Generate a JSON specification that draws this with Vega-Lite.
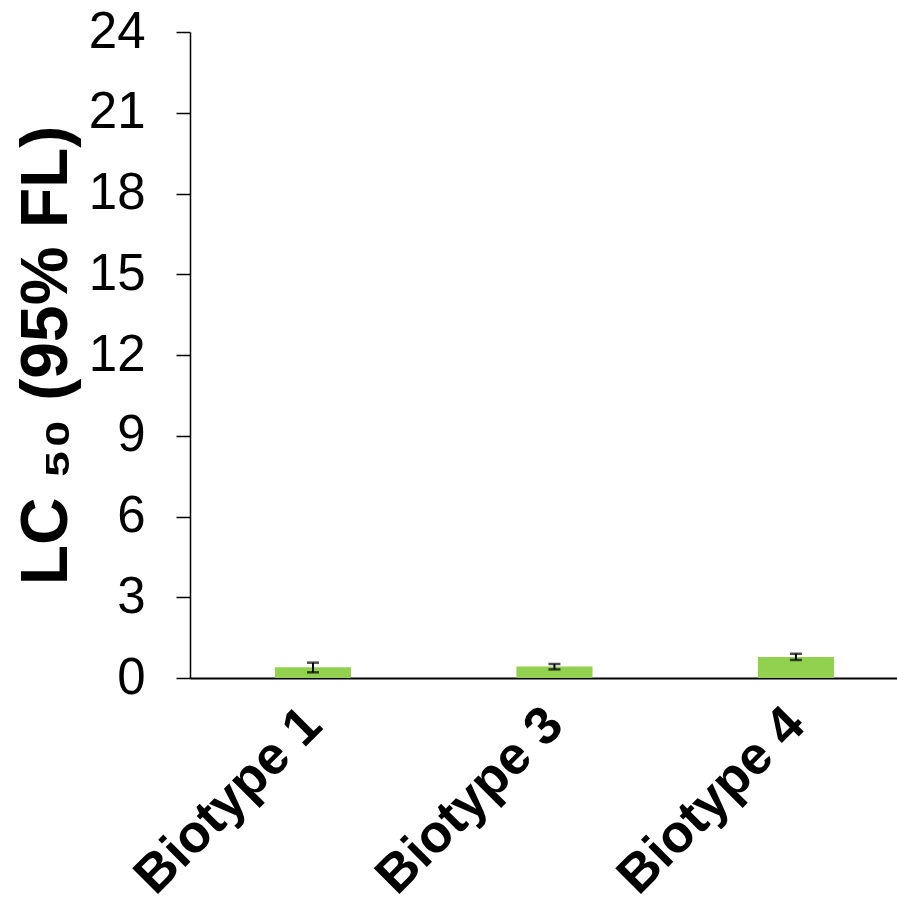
{
  "$schema": "https://vega.github.io/schema/vega-lite/v6.json",
  "width": 707,
  "height": 646,
  "autosize": {"type": "none"},
  "padding": {"left": 190, "top": 32, "right": 0, "bottom": 234},
  "background": "white",
  "config": {
    "view": {"stroke": null},
    "font": "Liberation Sans"
  },
  "data": {
    "values": [
      {"biotype": "Biotype 1", "lc50": 0.40, "lo": 0.21, "hi": 0.57},
      {"biotype": "Biotype 3", "lc50": 0.43, "lo": 0.32, "hi": 0.52},
      {"biotype": "Biotype 4", "lc50": 0.78, "lo": 0.67, "hi": 0.90}
    ]
  },
  "encoding": {
    "x": {
      "field": "biotype",
      "type": "nominal",
      "sort": null,
      "scale": {"paddingInner": 0.685, "paddingOuter": 0.3064, "align": 0.574},
      "axis": {
        "title": null,
        "domainColor": "black",
        "domainWidth": 2,
        "ticks": false,
        "labelAngle": -45,
        "labelAlign": "right",
        "labelBaseline": "middle",
        "labelFont": "Liberation Sans",
        "labelFontWeight": "bold",
        "labelFontSize": 53,
        "labelColor": "black",
        "labelPadding": 38,
        "labelLimit": 0
      }
    }
  },
  "layer": [
    {
      "mark": {"type": "bar", "color": "#92D050"},
      "encoding": {
        "y": {
          "field": "lc50",
          "type": "quantitative",
          "scale": {"domain": [0, 24], "nice": false},
          "axis": {
            "values": [0, 3, 6, 9, 12, 15, 18, 21, 24],
            "grid": false,
            "domainColor": "black",
            "domainWidth": 1.5,
            "tickColor": "black",
            "tickWidth": 1.5,
            "tickSize": 14,
            "labelFont": "Liberation Sans",
            "labelFontSize": 51,
            "labelColor": "black",
            "labelPadding": 31,
            "title": "LC ₅₀ (95% FL)",
            "titleFont": "Liberation Sans",
            "titleFontSize": 66,
            "titleFontWeight": "bold",
            "titleColor": "black",
            "titleAngle": -90,
            "titleAlign": "center",
            "titleBaseline": "alphabetic",
            "titleX": -124,
            "titleY": 323
          }
        }
      }
    },
    {
      "mark": {"type": "rule", "color": "black", "strokeWidth": 2},
      "encoding": {
        "y": {"field": "lo", "type": "quantitative"},
        "y2": {"field": "hi"}
      }
    },
    {
      "mark": {"type": "tick", "color": "black", "thickness": 2.5, "size": 12},
      "encoding": {
        "y": {"field": "lo", "type": "quantitative"}
      }
    },
    {
      "mark": {"type": "tick", "color": "black", "thickness": 2.5, "size": 12},
      "encoding": {
        "y": {"field": "hi", "type": "quantitative"}
      }
    }
  ]
}
